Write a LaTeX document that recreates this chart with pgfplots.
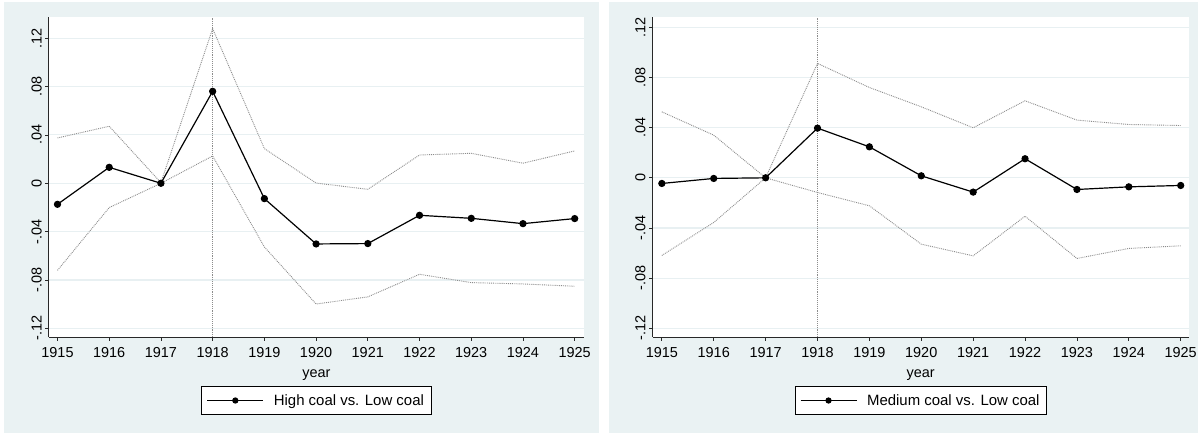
\documentclass[border=0pt]{standalone}
\usepackage{fontspec}
\setmainfont{Liberation Sans}
\usepackage{pgfplots}
\usepackage{pgfplotstable}
\pgfplotsset{compat=1.18}

\definecolor{panelbg}{RGB}{234,242,243}
\definecolor{gridc}{RGB}{232,240,242}
\definecolor{cigray}{RGB}{140,140,140}
\definecolor{axisc}{RGB}{40,40,40}

% Event-study coefficients with 95% confidence bounds (1917 = reference year)
\pgfplotstableread{
year  est      lo       hi
1915  -0.0174  -0.0720  0.0375
1916   0.0132  -0.0201  0.0472
1917   0.0000   0.0000  0.0005
1918   0.0761   0.0226  0.1280
1919  -0.0127  -0.0527  0.0287
1920  -0.0502  -0.0999  0.0002
1921  -0.0499  -0.0940 -0.0050
1922  -0.0265  -0.0753  0.0234
1923  -0.0290  -0.0822  0.0248
1924  -0.0334  -0.0833  0.0166
1925  -0.0292  -0.0852  0.0268
}\hightab

\pgfplotstableread{
year  est      lo       hi
1915  -0.0045  -0.0619  0.0526
1916  -0.0005  -0.0356  0.0340
1917   0.0000   0.0000  0.0000
1918   0.0396  -0.0117  0.0912
1919   0.0247  -0.0223  0.0720
1920   0.0016  -0.0529  0.0566
1921  -0.0114  -0.0622  0.0399
1922   0.0152  -0.0306  0.0614
1923  -0.0093  -0.0643  0.0460
1924  -0.0072  -0.0563  0.0425
1925  -0.0061  -0.0542  0.0417
}\medtab

\newcommand{\tickfont}{\fontsize{14.5}{16}\selectfont}

\pgfplotsset{
  stata/.style={
    scale only axis,
    height=320bp,
    axis x line*=bottom,
    axis y line*=left,
    axis line style={axisc, line width=0.7bp, -},
    tick style={axisc, line width=0.7bp},
    tick align=outside,
    major tick length=3.5bp,
    xtick={1915,...,1925},
    xticklabels={1915,1916,1917,1918,1919,1920,1921,1922,1923,1924,1925},
    ytick={-0.12,-0.08,-0.04,0,0.04,0.08,0.12},
    yticklabels={-.12,-.08,-.04,0,.04,.08,.12},
    xticklabel style={font=\tickfont, yshift=-3bp},
    yticklabel style={font=\tickfont, rotate=90, anchor=south},
    ymajorgrids,
    grid style={gridc, line width=1.1bp},
    axis background/.style={fill=white},
    xlabel={year},
    xlabel style={font=\tickfont, yshift=-6bp},
    legend style={
      at={(0.5,0)}, anchor=north, yshift=-49bp,
      draw=black, line width=0.7bp, fill=white,
      font=\fontsize{15}{17}\selectfont,
      inner xsep=5bp, inner ysep=6bp,
      column sep=8bp,
      legend cell align=left,
    },
    legend image code/.code={
      \draw[black, line width=1.1bp] (0bp,0bp) -- (56bp,0bp);
      \fill[black] (28bp,0bp) circle (2.5bp);
    },
  },
  ci/.style={cigray, densely dotted, line width=0.9bp, forget plot},
  est/.style={black, line width=1.2bp, mark=*, mark size=3bp,
    mark options={solid, fill=black}},
}

\begin{document}
\begin{tikzpicture}
\useasboundingbox (0bp,0bp) rectangle (1199bp,434bp);
\fill[white] (0bp,0bp) rectangle (1199bp,434bp);
\fill[panelbg] (4bp,1bp) rectangle (599bp,432bp);
\fill[panelbg] (608.5bp,1bp) rectangle (1197.5bp,432bp);

\begin{axis}[stata,
  at={(48.7bp,97bp)}, anchor=south west,
  width=535.3bp,
  xmin=1914.83, xmax=1925.18,
  ymin=-0.1272, ymax=0.1376]
  \addplot[cigray, densely dotted, line width=0.9bp, forget plot]
    coordinates {(1918,-0.1272) (1918,0.1376)};
  \addplot[ci] table[x=year, y=hi] {\hightab};
  \addplot[ci] table[x=year, y=lo] {\hightab};
  \addplot[est] table[x=year, y=est] {\hightab};
  \addlegendentry{High coal vs. Low coal}
\end{axis}

\begin{axis}[stata,
  at={(652.5bp,97bp)}, anchor=south west,
  width=536.5bp,
  xmin=1914.82, xmax=1925.16,
  ymin=-0.1269, ymax=0.1282]
  \addplot[cigray, densely dotted, line width=0.9bp, forget plot]
    coordinates {(1918,-0.1269) (1918,0.1282)};
  \addplot[ci] table[x=year, y=hi] {\medtab};
  \addplot[ci] table[x=year, y=lo] {\medtab};
  \addplot[est] table[x=year, y=est] {\medtab};
  \addlegendentry{Medium coal vs. Low coal}
\end{axis}
\end{tikzpicture}
\end{document}
